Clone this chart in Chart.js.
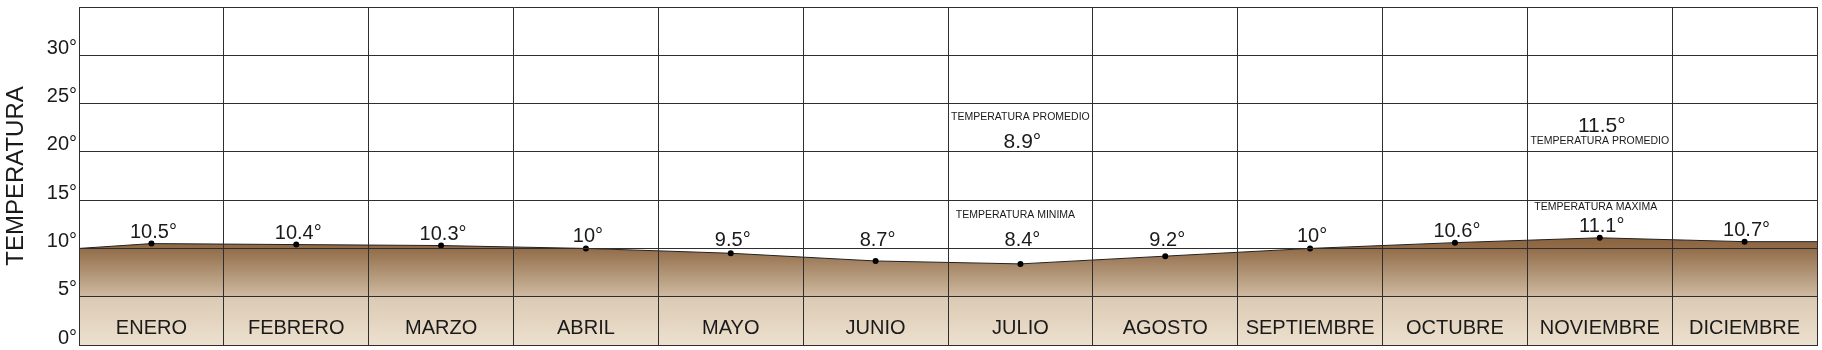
<!DOCTYPE html>
<html lang="es">
<head>
<meta charset="UTF-8">
<title>Temperatura</title>
<script src="https://cdn.jsdelivr.net/npm/chart.js@4"></script>
<style>
	html, body { margin: 0; padding: 0; background: #fff; }
	#wrap { width: 1822px; height: 350px; position: relative; }
</style>
</head>
<body>
<div id="wrap"><canvas id="tempChart"></canvas></div>
<script>
const months = ['ENERO', 'FEBRERO', 'MARZO', 'ABRIL', 'MAYO', 'JUNIO', 'JULIO', 'AGOSTO', 'SEPTIEMBRE', 'OCTUBRE', 'NOVIEMBRE', 'DICIEMBRE'];
const temperatures = [10.5, 10.4, 10.3, 10, 9.5, 8.7, 8.4, 9.2, 10, 10.6, 11.1, 10.7];
// valor de la curva en el borde izquierdo y en el derecho
const edgeTemps = [10, 10.7];
const yTickValues = [0, 5, 10, 15, 20, 25, 30];
const avgMonths = ['JULIO', 'NOVIEMBRE'];
const avgTemps = [8.9, 11.5];

const FONT = '"Liberation Sans", Arial, sans-serif';
const INK = '#1a1a1a';
const GRID = '#2e2e2e';

function deg(v) {
	return v + '°';
}

function fillGradient(context) {
	const { chart } = context;
	const area = chart.chartArea;
	if (!area) return '#b89a78';
	const y = chart.scales.y;
	const top = y.getPixelForValue(11.5);
	const g = chart.ctx.createLinearGradient(0, top, 0, area.bottom);
	const at = v => (y.getPixelForValue(v) - top) / (area.bottom - top);
	g.addColorStop(0, 'rgb(135, 97, 60)');
	g.addColorStop(at(10), 'rgb(146, 108, 73)');
	g.addColorStop(at(5.05), 'rgb(206, 186, 160)');
	g.addColorStop(at(4.95), 'rgb(219, 202, 179)');
	g.addColorStop(1, 'rgb(236, 224, 206)');
	return g;
}

// textos: etiquetas de meses, valores y notas
const textPlugin = {
	id: 'textos',
	afterDraw(chart) {
		const { ctx } = chart;
		const x = chart.scales.x;
		const y = chart.scales.y;
		const colX = i => x.getPixelForValue(i + 0.5);
		const limit = y.getPixelForValue(10) - 2;

		ctx.save();
		ctx.fillStyle = INK;
		ctx.textAlign = 'center';

		// meses
		ctx.font = '20px ' + FONT;
		ctx.textBaseline = 'middle';
		months.forEach((m, i) => {
			ctx.fillText(m, colX(i), y.getPixelForValue(1.75));
		});

		// valores sobre los puntos
		ctx.textBaseline = 'alphabetic';
		temperatures.forEach((t, i) => {
			const py = y.getPixelForValue(t);
			ctx.fillText(deg(t), colX(i) + 2, Math.min(py - 6, limit));
		});

		// minima y maxima
		const iMin = temperatures.indexOf(Math.min(...temperatures));
		const iMax = temperatures.indexOf(Math.max(...temperatures));
		ctx.font = '10.5px ' + FONT;
		ctx.textBaseline = 'middle';
		ctx.fillText('TEMPERATURA MINIMA', colX(iMin) - 5, y.getPixelForValue(13.45));
		ctx.fillText('TEMPERATURA MAXIMA', colX(iMax) - 4, y.getPixelForValue(14.3));

		// promedios
		avgMonths.forEach((m, k) => {
			const cx = colX(months.indexOf(m));
			const first = k === 0;
			ctx.font = '10.5px ' + FONT;
			ctx.fillText('TEMPERATURA PROMEDIO', cx, y.getPixelForValue(first ? 23.55 : 21.1));
			ctx.font = '21px ' + FONT;
			ctx.fillText(deg(avgTemps[k]), cx + 2, y.getPixelForValue(first ? 20.95 : 22.7));
		});
		ctx.restore();
	}
};

const points = [
	{ x: 0, y: edgeTemps[0] },
	...temperatures.map((t, i) => ({ x: i + 0.5, y: t })),
	{ x: months.length, y: edgeTemps[1] }
];
const lastIndex = points.length - 1;

new Chart(document.getElementById('tempChart'), {
	type: 'line',
	data: {
		datasets: [{
			data: points,
			borderColor: '#222',
			borderWidth: 1,
			tension: 0,
			fill: 'origin',
			backgroundColor: fillGradient,
			pointRadius: c => (c.dataIndex === 0 || c.dataIndex === lastIndex) ? 0 : 3,
			pointBackgroundColor: '#000',
			pointBorderWidth: 0
		}]
	},
	options: {
		responsive: true,
		maintainAspectRatio: false,
		animation: false,
		layout: { padding: { top: 7, right: 5, bottom: 5, left: 0 } },
		plugins: {
			legend: { display: false },
			tooltip: { enabled: false }
		},
		scales: {
			x: {
				type: 'linear',
				min: 0,
				max: months.length,
				ticks: { display: false, stepSize: 1 },
				grid: { color: GRID, lineWidth: 1, drawTicks: false, z: 1 },
				border: { color: GRID, z: 1 },
				afterFit: s => {
					s.height = 0;
					s.paddingLeft = 0;
					s.paddingRight = 0;
				}
			},
			y: {
				min: 0,
				max: 35,
				afterBuildTicks: s => {
					s.ticks = yTickValues.concat([35]).map(v => ({ value: v }));
				},
				ticks: {
					color: INK,
					font: { family: FONT, size: 20 },
					padding: 2,
					labelOffset: -7,
					callback: v => yTickValues.includes(v) ? deg(v) : ''
				},
				grid: { color: GRID, lineWidth: 1, drawTicks: false, z: 1 },
				border: { color: GRID, z: 1 },
				title: {
					display: true,
					text: 'TEMPERATURA',
					color: INK,
					font: { family: FONT, size: 24 },
					padding: { top: 2, bottom: 0 }
				},
				afterFit: s => {
					s.width = 79;
					s.paddingTop = 0;
					s.paddingBottom = 0;
				}
			}
		}
	},
	plugins: [textPlugin]
});
</script>
</body>
</html>
